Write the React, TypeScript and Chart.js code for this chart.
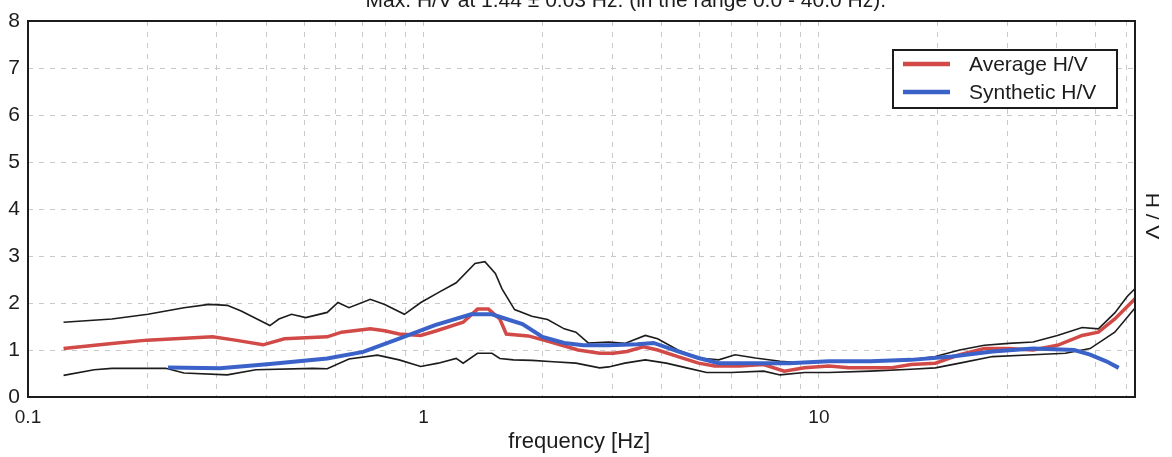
import React, { useEffect, useRef } from 'react';
import { Chart, registerables } from 'chart.js';

Chart.register(...registerables);

const titleText = 'Max. H/V at 1.44 ± 0.03 Hz. (in the range 0.0 - 40.0 Hz).';
const xAxisTitle = 'frequency [Hz]';
const yAxisTitle = 'H / V';
const legendLabels = ['Average H/V', 'Synthetic H/V'];

const xTickValues = [
  0.1, 0.2, 0.3, 0.4, 0.5, 0.6, 0.7, 0.8, 0.9,
  1, 2, 3, 4, 5, 6, 7, 8, 9,
  10, 20, 30, 40, 50, 60,
];
const xLabelValues = [0.1, 1, 10];
const xMin = 0.1;
const xMax = 63;
const yMin = 0;
const yMax = 8;

const avgFreq = [
  0.123, 0.163, 0.2, 0.293, 0.334, 0.393, 0.445, 0.571, 0.621, 0.734, 0.798, 0.868, 0.984, 1.07,
  1.26, 1.37, 1.46, 1.56, 1.62, 1.84, 2.08, 2.46, 2.79, 3.02, 3.27, 3.6, 3.91, 4.4, 4.96, 5.45,
  6.29, 7.25, 8.17, 9.2, 10.6, 11.9, 15.2, 17.1, 19.7, 22.7, 26.2, 30.2, 34.8, 40.1, 46.3, 50.9,
  56.0, 63.2,
];
const avgHV = [
  1.03, 1.14, 1.21, 1.28, 1.21, 1.11, 1.24, 1.28, 1.38, 1.45, 1.41, 1.34, 1.31, 1.4,
  1.59, 1.87, 1.87, 1.66, 1.34, 1.3, 1.18, 1.0, 0.93, 0.93, 0.97, 1.07, 1.0, 0.86, 0.72, 0.66,
  0.66, 0.69, 0.55, 0.62, 0.66, 0.62, 0.62, 0.69, 0.72, 0.9, 1.03, 1.03, 1.0, 1.1, 1.31, 1.38,
  1.66, 2.1,
];

const synFreq = [
  0.226, 0.306, 0.409, 0.571, 0.704, 0.868, 1.07, 1.32, 1.49, 1.62, 1.78, 2.0, 2.27, 2.54, 2.94,
  3.47, 3.82, 4.4, 4.96, 5.58, 6.6, 8.4, 10.6, 13.5, 17.1, 21.7, 27.5, 34.8, 44.2, 48.5, 53.3, 57.3,
];
const synHV = [
  0.63, 0.61, 0.7, 0.82, 0.96, 1.24, 1.53, 1.76, 1.76, 1.66, 1.55, 1.28, 1.15, 1.1, 1.1,
  1.12, 1.15, 0.97, 0.83, 0.72, 0.72, 0.72, 0.76, 0.76, 0.79, 0.86, 0.97, 1.03, 1.0, 0.9, 0.76, 0.62,
];

const upperFreq = [
  0.123, 0.163, 0.201, 0.248, 0.287, 0.319, 0.346, 0.409, 0.431, 0.464, 0.504, 0.571, 0.608, 0.648,
  0.734, 0.798, 0.895, 0.985, 1.09, 1.21, 1.35, 1.43, 1.52, 1.58, 1.7, 1.88, 2.06, 2.27, 2.43, 2.61,
  2.94, 3.23, 3.64, 3.91, 4.4, 4.96, 5.58, 6.14, 6.91, 7.98, 9.2, 10.6, 13.5, 17.1, 19.7, 22.7,
  26.2, 30.2, 34.8, 40.1, 46.3, 50.9, 56.0, 60.2, 63.8,
];
const upperHV = [
  1.59, 1.66, 1.76, 1.9, 1.97, 1.95, 1.83, 1.52, 1.66, 1.76, 1.69, 1.8, 2.01, 1.9,
  2.08, 1.97, 1.76, 2.01, 2.22, 2.43, 2.84, 2.88, 2.63, 2.3, 1.86, 1.72, 1.65, 1.45, 1.38, 1.15,
  1.17, 1.14, 1.31, 1.24, 1.0, 0.83, 0.79, 0.9, 0.83, 0.76, 0.72, 0.76, 0.76, 0.79, 0.86, 1.0,
  1.1, 1.14, 1.17, 1.31, 1.48, 1.45, 1.79, 2.14, 2.35,
];

const lowerFreq = [
  0.123, 0.147, 0.163, 0.223, 0.248, 0.319, 0.377, 0.526, 0.571, 0.648, 0.765, 0.868, 0.984, 1.09,
  1.21, 1.26, 1.37, 1.49, 1.56, 1.69, 1.88, 2.13, 2.43, 2.79, 2.94, 3.23, 3.64, 4.11, 4.63, 5.2,
  6.0, 7.25, 7.98, 9.2, 10.6, 13.5, 17.1, 19.7, 22.7, 27.5, 34.8, 42.0, 48.5, 56.0, 63.8,
];
const lowerHV = [
  0.46, 0.58, 0.61, 0.61, 0.51, 0.47, 0.58, 0.61, 0.6, 0.81, 0.89, 0.79, 0.65, 0.72,
  0.82, 0.72, 0.93, 0.93, 0.82, 0.79, 0.78, 0.75, 0.72, 0.62, 0.64, 0.72, 0.79, 0.72, 0.62, 0.52,
  0.52, 0.55, 0.47, 0.52, 0.52, 0.55, 0.59, 0.62, 0.72, 0.86, 0.9, 0.93, 1.03, 1.38, 1.95,
];

const RED = '#d24a47';
const BLUE = '#3a62c8';
const INK = '#1c1c1c';
const FONT = '"Liberation Sans", Arial, sans-serif';

const pts = (xs: number[], ys: number[]) => xs.map((x, i) => ({ x, y: ys[i] }));

const decorPlugin = {
  id: 'decor',
  afterDraw(chart: any) {
    const { ctx, chartArea: a } = chart;
    ctx.save();
    // frame
    ctx.strokeStyle = INK;
    ctx.lineWidth = 2;
    ctx.setLineDash([]);
    ctx.strokeRect(a.left, a.top, a.right - a.left, a.bottom - a.top);

    ctx.fillStyle = INK;
    ctx.textAlign = 'center';
    ctx.textBaseline = 'alphabetic';
    // clipped title at top
    ctx.font = `21px ${FONT}`;
    ctx.fillText(titleText, a.left + (a.right - a.left) * 0.54, 7);
    // x-axis title
    ctx.font = `22px ${FONT}`;
    ctx.fillText(xAxisTitle, a.left + (a.right - a.left) * 0.498, a.bottom + 51);

    // right axis title, rotated clockwise
    ctx.save();
    ctx.translate(a.right + 16, a.top + 195);
    ctx.rotate(Math.PI / 2);
    ctx.scale(1, 0.87);
    ctx.textBaseline = 'middle';
    ctx.font = `21px ${FONT}`;
    ctx.fillText(yAxisTitle, 0, 0);
    ctx.restore();

    // legend box
    const bx = a.right - 242;
    const by = a.top + 29;
    const bw = 224;
    const bh = 58;
    ctx.fillStyle = '#ffffff';
    ctx.fillRect(bx, by, bw, bh);
    ctx.strokeStyle = INK;
    ctx.lineWidth = 2;
    ctx.strokeRect(bx, by, bw, bh);
    const colors = [RED, BLUE];
    legendLabels.forEach((lab, i) => {
      const cy = by + 14 + i * 28;
      ctx.strokeStyle = colors[i];
      ctx.lineWidth = 4.5;
      ctx.beginPath();
      ctx.moveTo(bx + 10, cy);
      ctx.lineTo(bx + 57, cy);
      ctx.stroke();
      ctx.fillStyle = INK;
      ctx.font = `21px ${FONT}`;
      ctx.textAlign = 'left';
      ctx.textBaseline = 'middle';
      ctx.fillText(lab, bx + 76, cy + 1);
    });
    ctx.restore();
  },
};

export default function App() {
  const ref = useRef<HTMLCanvasElement | null>(null);

  useEffect(() => {
    if (!ref.current) return;
    const chart = new Chart(ref.current, {
      type: 'line',
      data: {
        datasets: [
          {
            label: legendLabels[1],
            data: pts(synFreq, synHV),
            borderColor: BLUE,
            borderWidth: 4,
            pointRadius: 0,
            tension: 0,
            fill: false,
          },
          {
            label: legendLabels[0],
            data: pts(avgFreq, avgHV),
            borderColor: RED,
            borderWidth: 3.5,
            pointRadius: 0,
            tension: 0,
            fill: false,
          },
          {
            label: 'upper',
            data: pts(upperFreq, upperHV),
            borderColor: INK,
            borderWidth: 1.6,
            pointRadius: 0,
            tension: 0,
            fill: false,
          },
          {
            label: 'lower',
            data: pts(lowerFreq, lowerHV),
            borderColor: INK,
            borderWidth: 1.6,
            pointRadius: 0,
            tension: 0,
            fill: false,
          },
        ],
      },
      options: {
        responsive: false,
        animation: false,
        parsing: true,
        layout: { padding: { top: 21, right: 37, left: 0, bottom: 0 } },
        plugins: {
          legend: { display: false },
          title: { display: false },
          tooltip: { enabled: false },
        },
        scales: {
          x: {
            type: 'logarithmic',
            min: xMin,
            max: xMax,
            afterFit: (s: any) => {
              s.height = 60;
            },
            afterBuildTicks: (s: any) => {
              s.ticks = xTickValues.map((v) => ({ value: v }));
            },
            grid: { color: '#c9c9c9', lineWidth: 1, drawTicks: false },
            border: { display: false, dash: [5, 6] },
            ticks: {
              autoSkip: false,
              maxRotation: 0,
              minRotation: 0,
              padding: 9,
              color: INK,
              font: { family: FONT, size: 19 },
              callback: (v: any) => {
                const n = Number(v);
                return xLabelValues.some((t) => Math.abs(t - n) < 1e-9) ? String(n) : '';
              },
            },
          },
          y: {
            type: 'linear',
            min: yMin,
            max: yMax,
            afterFit: (s: any) => {
              s.width = 28;
            },
            grid: { color: '#c9c9c9', lineWidth: 1, drawTicks: false },
            border: { display: false, dash: [5, 6] },
            ticks: {
              stepSize: 1,
              padding: 8,
              color: INK,
              font: { family: FONT, size: 21 },
            },
          },
        },
      },
      plugins: [decorPlugin],
    });
    return () => chart.destroy();
  }, []);

  return (
    <div style={{ position: 'absolute', left: 0, top: 0, width: 1172, height: 457, background: '#fff' }}>
      <canvas ref={ref} width={1172} height={457} style={{ display: 'block' }} />
    </div>
  );
}
